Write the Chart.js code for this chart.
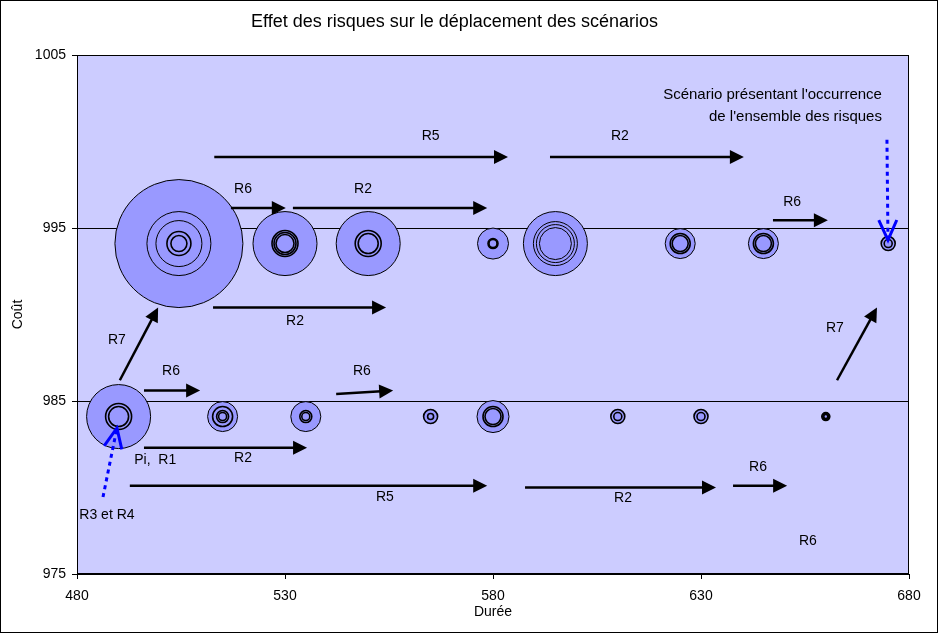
<!DOCTYPE html>
<html lang="fr">
<head>
<meta charset="utf-8">
<title>Effet des risques sur le déplacement des scénarios</title>
<script src="https://cdn.jsdelivr.net/npm/chart.js@4.4.1/dist/chart.umd.min.js"></script>
<style>
    html, body { margin: 0; padding: 0; background: #fff; }
    canvas { display: block; }
</style>
</head>
<body>
<canvas id="chart" width="939" height="633"></canvas>
<script>
// Scénarios : durée (x), coût (y), tailles des bulles concentriques
const rowTopX = [504.5, 530, 550, 580, 595, 625, 645, 675];
const rowTopY = 994.1;
const rowTopSizes = [
    [64, 32, 23, 12, 8],
    [32, 13, 11, 9],
    [32, 13, 10],
    [15.5, 5, 4],
    [32, 22, 19, 16],
    [15, 10, 8],
    [15, 10, 8],
    [7, 4]
];
const rowBotX = [490, 515, 535, 565, 580, 610, 630, 660];
const rowBotY = 984.1;
const rowBotSizes = [
    [32, 13, 10],
    [15, 10, 6, 4],
    [15, 6, 4],
    [7, 3],
    [16, 10, 8],
    [7, 4],
    [7, 4],
    [4, 3, 2]
];

const xTicks = [480, 530, 580, 630, 680];
const yTicks = [975, 985, 995, 1005];

// Flèches des risques : [x départ, y départ, x pointe, y pointe]
const riskArrows = [
    [513, 999.1, 583.6, 999.1],
    [593.7, 999.1, 640.3, 999.1],
    [517, 996.15, 530.2, 996.15],
    [531.9, 996.15, 578.6, 996.15],
    [647.3, 995.45, 660.5, 995.45],
    [512.7, 990.4, 554.3, 990.4],
    [490.3, 986.2, 499.5, 990.4],
    [662.7, 986.2, 672.3, 990.4],
    [496.1, 985.6, 509.6, 985.6],
    [542.3, 985.4, 556, 985.6],
    [496.1, 982.3, 535.3, 982.3],
    [492.7, 980.1, 578.6, 980.1],
    [587.7, 980, 633.6, 980],
    [637.7, 980.1, 650.7, 980.1]
];
// Libellés : [texte, x, y]
const riskLabels = [
    ['R5', 565, 1000.3], ['R2', 610.5, 1000.3],
    ['R6', 519.9, 997.25], ['R2', 548.75, 997.25], ['R6', 651.9, 996.5],
    ['R2', 532.4, 989.6], ['R7', 489.6, 988.5], ['R7', 662.2, 989.2],
    ['R6', 502.6, 986.75], ['R6', 548.5, 986.7],
    ['R2', 519.9, 981.7], ['Pi,  R1', 498.8, 981.6],
    ['R5', 554, 979.45], ['R2', 611.25, 979.4], ['R6', 643.7, 981.15],
    ['R6', 655.7, 976.9], ['R3 et R4', 487.2, 978.4]
];
// Flèches bleues pointillées : [x départ, y départ, x pointe, y pointe]
const blueArrows = [
    [486.25, 979.45, 489.6, 983.44],
    [674.7, 1000.1, 674.95, 994.3]
];
const noteLines = ["Scénario présentant l'occurrence", "de l'ensemble des risques"];
const noteX = 673.5;
const noteY = [1002.7, 1001.4];

const FONT = '"Liberation Sans", Arial, sans-serif';

function ringData(xs, y, sizes, k) {
    const out = [];
    xs.forEach((x, i) => {
        if (sizes[i][k] !== undefined) out.push({ x: x, y: y, r: sizes[i][k] });
    });
    return out;
}

const datasets = [];
for (let k = 0; k < 5; k++) {
    datasets.push({
        data: ringData(rowTopX, rowTopY, rowTopSizes, k).concat(ringData(rowBotX, rowBotY, rowBotSizes, k)),
        backgroundColor: '#9999ff',
        borderColor: '#000',
        // les petits anneaux serrés paraissent plus épais
        borderWidth: c => (c.raw && c.raw.r < 14 ? 1.6 : 1),
        hoverBorderWidth: 1,
        clip: false,
        order: 10 - k
    });
}

function head(c, x1, y1, x2, y2, len, half, filled) {
    const a = Math.atan2(y2 - y1, x2 - x1);
    const bx = x2 - len * Math.cos(a), by = y2 - len * Math.sin(a);
    c.beginPath();
    c.moveTo(bx + half * Math.sin(a), by - half * Math.cos(a));
    c.lineTo(x2, y2);
    c.lineTo(bx - half * Math.sin(a), by + half * Math.cos(a));
    if (filled) { c.closePath(); c.fill(); } else { c.stroke(); }
}

const plotBackground = {
    id: 'plotBackground',
    beforeDraw(chart) {
        const c = chart.ctx, a = chart.chartArea;
        c.save();
        c.fillStyle = '#fff';
        c.fillRect(0, 0, chart.width, chart.height);
        c.fillStyle = '#ccccff';
        c.fillRect(a.left, a.top, a.right - a.left, a.bottom - a.top);
        c.restore();
    }
};

const annotations = {
    id: 'annotations',
    afterDatasetsDraw(chart) {
        const c = chart.ctx, a = chart.chartArea;
        const sx = chart.scales.x, sy = chart.scales.y;
        c.save();
        // cadre de la zone de traçage et du graphique
        c.strokeStyle = '#000';
        c.lineWidth = 1;
        c.strokeRect(a.left + 0.5, a.top + 0.5, a.right - a.left - 1, a.bottom - a.top - 1);
        c.strokeRect(0.5, 0.5, chart.width - 2, chart.height - 1);

        // flèches noires
        c.fillStyle = '#000';
        c.lineWidth = 2.5;
        riskArrows.forEach(r => {
            const x1 = sx.getPixelForValue(r[0]), y1 = sy.getPixelForValue(r[1]);
            const x2 = sx.getPixelForValue(r[2]), y2 = sy.getPixelForValue(r[3]);
            const ang = Math.atan2(y2 - y1, x2 - x1);
            c.beginPath();
            c.moveTo(x1, y1);
            c.lineTo(x2 - 12 * Math.cos(ang), y2 - 12 * Math.sin(ang));
            c.stroke();
            head(c, x1, y1, x2, y2, 14, 7, true);
        });

        // flèches bleues en pointillés
        c.strokeStyle = '#0000ff';
        c.lineWidth = 3;
        blueArrows.forEach(r => {
            const x1 = sx.getPixelForValue(r[0]), y1 = sy.getPixelForValue(r[1]);
            const x2 = sx.getPixelForValue(r[2]), y2 = sy.getPixelForValue(r[3]);
            c.setLineDash([4, 4]);
            c.beginPath();
            c.moveTo(x1, y1);
            c.lineTo(x2, y2);
            c.stroke();
            c.setLineDash([]);
            head(c, x1, y1, x2, y2, 20, 9, false);
        });

        // libellés
        c.fillStyle = '#000';
        c.font = '14px ' + FONT;
        c.textAlign = 'center';
        c.textBaseline = 'middle';
        riskLabels.forEach(l => {
            c.fillText(l[0], sx.getPixelForValue(l[1]), sy.getPixelForValue(l[2]));
        });
        c.font = '15px ' + FONT;
        c.textAlign = 'right';
        noteLines.forEach((t, i) => {
            c.fillText(t, sx.getPixelForValue(noteX), sy.getPixelForValue(noteY[i]));
        });
        c.restore();
    }
};

new Chart(document.getElementById('chart'), {
    type: 'bubble',
    data: { datasets: datasets },
    options: {
        responsive: false,
        animation: false,
        events: [],
        layout: { autoPadding: false, padding: { top: 0, right: 30, bottom: 0, left: 0 } },
        plugins: {
            legend: { display: false },
            tooltip: { enabled: false },
            title: {
                display: true,
                text: 'Effet des risques sur le déplacement des scénarios',
                color: '#000',
                font: { family: FONT, size: 18, weight: 'normal' },
                padding: { top: 11, bottom: 22.4 }
            }
        },
        scales: {
            x: {
                type: 'linear',
                min: 480,
                max: 680,
                afterBuildTicks: s => { s.ticks = xTicks.map(v => ({ value: v })); },
                afterFit: s => { s.height = 59; s.paddingLeft = 0; s.paddingRight = 0; },
                ticks: {
                    color: '#000', padding: 9, font: { family: FONT, size: 14 },
                    callback: v => String(v)
                },
                grid: { drawOnChartArea: false, tickLength: 5, color: '#000' },
                border: { color: '#000' },
                title: {
                    display: true, text: 'Durée', color: '#000',
                    font: { family: FONT, size: 14 }, padding: { top: 0, bottom: 12 }
                }
            },
            y: {
                type: 'linear',
                min: 975,
                max: 1005,
                afterBuildTicks: s => { s.ticks = yTicks.map(v => ({ value: v })); },
                afterFit: s => { s.width = 77; },
                ticks: {
                    color: '#000', padding: 6, font: { family: FONT, size: 14 },
                    callback: v => String(v)
                },
                grid: { tickLength: 5, color: '#000' },
                border: { color: '#000' },
                title: {
                    display: true, text: 'Coût', color: '#000',
                    font: { family: FONT, size: 14 }, padding: { top: 10, bottom: 0 }
                }
            }
        }
    },
    plugins: [plotBackground, annotations]
});
</script>
</body>
</html>
